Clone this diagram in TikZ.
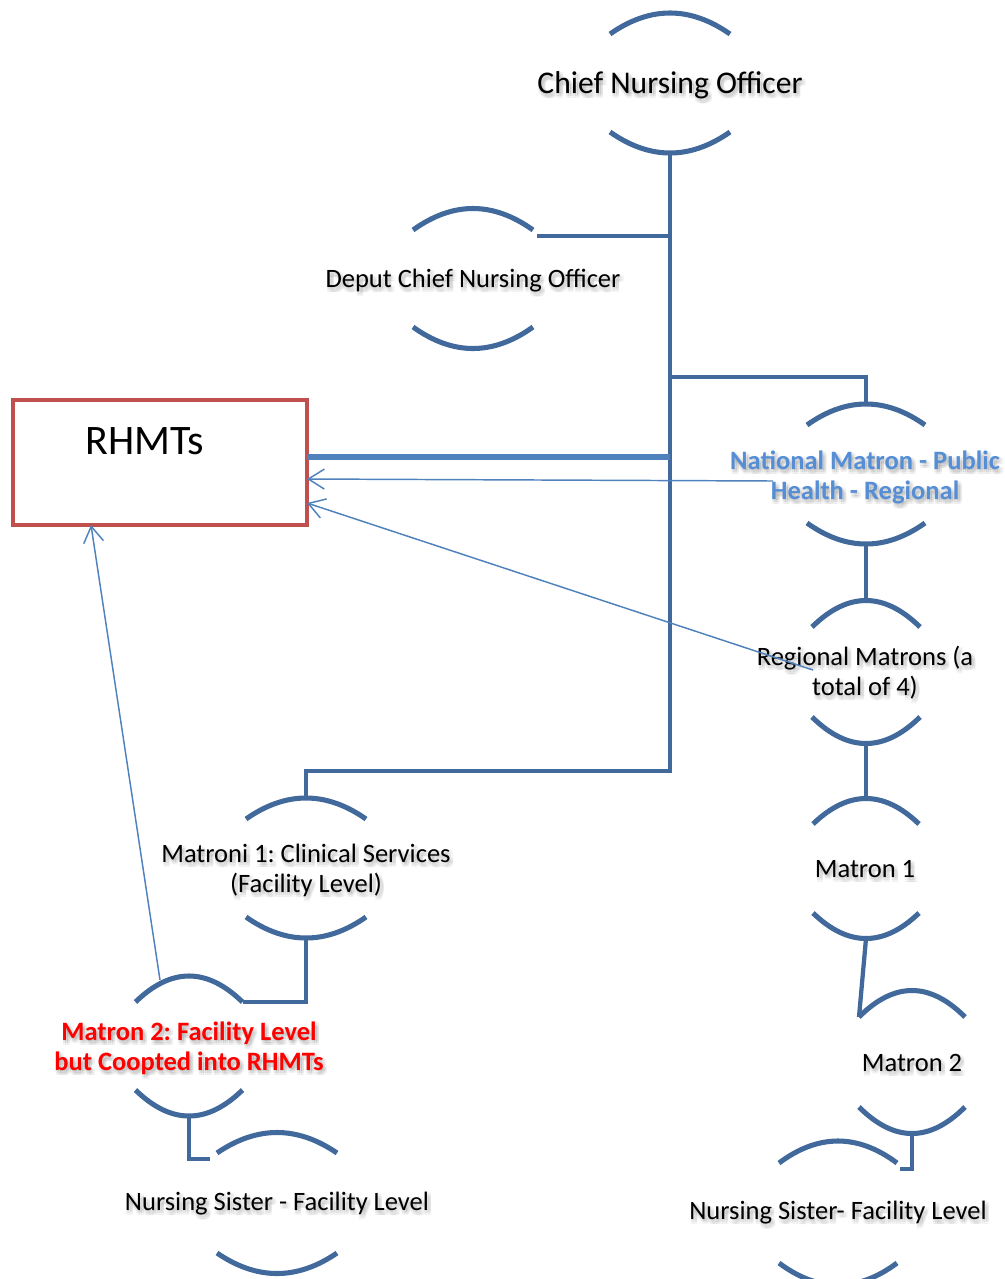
\documentclass[tikz,border=0pt]{standalone}
\usepackage{fontspec}
\setmainfont{Carlito}
\usetikzlibrary{arrows.meta,calc}
\frenchspacing

\definecolor{ringblue}{HTML}{41699B}
\definecolor{accentblue}{HTML}{4F81BD}
\definecolor{natblue}{HTML}{558ED5}
\definecolor{boxred}{HTML}{C0504D}
\definecolor{alertred}{HTML}{FF0000}

\tikzset{
  arcline/.style={draw=ringblue, line width=3.8pt},
  link/.style={draw=ringblue, line width=3.2pt},
  feed/.style={draw=accentblue, line width=4pt},
  toward/.style={draw=accentblue, line width=1.1pt, -{Straight Barb[length=12pt,width=15pt]}},
  txt/.style={align=center, inner sep=0pt, font=\fontsize{19.9}{22.5}\selectfont},
  headtxt/.style={font=\fontsize{23.7}{28}\selectfont},
  nattxt/.style={font=\fontsize{19.9}{22.5}\selectfont\bfseries, text=natblue},
  alerttxt/.style={font=\fontsize{19.9}{22.5}\selectfont\bfseries, text=alertred},
  teambox/.style={draw=boxred, line width=3pt, fill=white, minimum width=220.5pt,
    minimum height=93.75pt, outer sep=0pt, inner sep=0pt},
}

% pair of arcs framing a role: name, centre x, centre y, half chord, sagitta, half gap
\newcommand\ring[6]{%
  \coordinate (#1-tl) at ({#2-#4},{#3-#6});
  \coordinate (#1-tr) at ({#2+#4},{#3-#6});
  \coordinate (#1-bl) at ({#2-#4},{#3+#6});
  \coordinate (#1-br) at ({#2+#4},{#3+#6});
  \coordinate (#1-t) at (#2,{#3-#6-#5});
  \coordinate (#1-b) at (#2,{#3+#6+#5});
  \draw[arcline] (#1-tl) .. controls ({#2-#4/3},{#3-#6-4*#5/3}) and ({#2+#4/3},{#3-#6-4*#5/3}) .. (#1-tr);
  \draw[arcline] (#1-bl) .. controls ({#2-#4/3},{#3+#6+4*#5/3}) and ({#2+#4/3},{#3+#6+4*#5/3}) .. (#1-br);
}

% title with a soft drop shadow: name, position, style, text
\newcommand\lbl[4]{%
  \foreach \dx in {0,2,4}{\foreach \dy in {1,3,5}{%
    \node[txt,#3,text=black,text opacity=0.045] (#1-sh\dx\dy) at ($(#2)+(\dx,\dy)$) {#4};}}%
  \node[txt,#3] (#1) at (#2) {#4};%
}

\begin{document}
\begin{tikzpicture}[x=0.75pt,y=-0.75pt]
\useasboundingbox (0,0) rectangle (1005,1279);

% frames of the roles
\ring{chiefR}{670}{83}{60}{21}{49}
\ring{deputyR}{473}{278.5}{60}{21.5}{48.5}
\ring{nationalR}{866}{474}{59}{21}{49}
\ring{regionalR}{866}{672}{54}{26.5}{45}
\ring{matronAR}{866}{868.5}{53}{25.5}{44.5}
\ring{clinicalR}{306}{868}{60}{21}{49}
\ring{coopR}{189}{1046}{53.5}{26}{44}
\ring{matronBR}{912}{1062}{53}{26.5}{45}
\ring{sisterLR}{277}{1203}{60}{20.5}{50}
\ring{sisterRR}{838}{1213}{59}{22}{50}

% junctions on the main trunk
\coordinate (j-dep) at (670,236);
\coordinate (j-nat) at (670,377);
\coordinate (j-team) at (670,457);
\coordinate (j-low) at (670,771);

% reporting lines
\draw[link] (chiefR-b) -- (j-low) -| (clinicalR-t);
\draw[link] ($(deputyR-tr)+(4,6)$) -- (j-dep);
\draw[link] (j-nat) -| (nationalR-t);
\draw[link] (nationalR-b) -- (regionalR-t);
\draw[link] (regionalR-b) -- (matronAR-t);
\draw[link] (matronAR-b) -- (matronBR-tl);
\draw[link] (matronBR-b) |- ($(sisterRR-tr)+(3,6)$);
\draw[link] (clinicalR-b) |- (coopR-tr);
\draw[link] (coopR-b) |- ($(sisterLR-tl)+(-7,6)$);

% regional health management teams
\node[teambox] (rhmt) at (160,462.5) {};
\node[txt, font=\fontsize{31.5}{36}\selectfont] (rhmt-title) at (145,441) {RHMTs};
\draw[feed] (rhmt.east |- j-team) -- (j-team);

% role titles
\lbl{chief}{670,85}{headtxt}{Chief Nursing Officer}
\lbl{deputy}{473,281}{}{Deput Chief Nursing Officer}
\lbl{national}{865,477}{nattxt}{National Matron - Public\\Health - Regional}
\lbl{regional}{865,673}{}{Regional Matrons (a\\total of 4)}
\lbl{matronA}{865,869}{}{Matron 1}
\lbl{clinical}{306,870}{}{Matroni 1: Clinical Services\\(Facility Level)}
\lbl{coopted}{189,1048}{alerttxt}{Matron 2: Facility Level\\but Coopted into RHMTs}
\lbl{matronB}{912,1063}{}{Matron 2}
\lbl{sisterL}{277,1204}{}{Nursing Sister - Facility Level}
\lbl{sisterR}{838,1213}{}{Nursing Sister- Facility Level}

% links into the RHMTs
\coordinate (nat-tail) at (773,481);
\coordinate (reg-tail) at (813,670);
\coordinate (coop-tail) at (160,980);
\draw[toward] (nat-tail) -- ($(rhmt.east)+(0,16.5)$);
\draw[toward] (reg-tail) -- ($(rhmt.east)+(0,40.5)$);
\draw[toward] (coop-tail) -- ($(rhmt.south)+(-69,0)$);
\end{tikzpicture}
\end{document}
